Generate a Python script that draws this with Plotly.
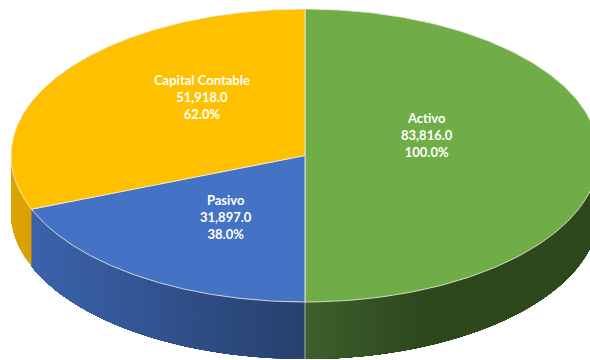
import numpy as np
import plotly.graph_objects as go

# Balance sheet split
categories = ["Activo", "Pasivo", "Capital Contable"]
values = [83816.0, 31897.0, 51918.0]
percent_labels = ["100.0%", "38.0%", "62.0%"]

# Slice styling
top_colors = ["#70AD47", "#4472C4", "#FFC000"]
side_colors = [("#3E602D", "#2D481D"), ("#3B63AC", "#27406D"), ("#DCA400", "#D8A000")]
label_pos = [(427, 135), (226, 217), (202, 97)]

# Projected pie geometry (pixels)
W, H = 590, 360
CX, CY, RX, RY, DEPTH = 305.0, 155.5, 294.0, 146.5, 57.0


def ellipse(theta_deg, dy=0.0):
    t = np.radians(theta_deg)
    return CX + RX * np.sin(t), CY - RY * np.cos(t) + dy


def blend(c1, c2, f):
    a = [int(c1[i:i + 2], 16) for i in (1, 3, 5)]
    b = [int(c2[i:i + 2], 16) for i in (1, 3, 5)]
    c = [round(a[k] + (b[k] - a[k]) * f) for k in range(3)]
    return "rgb({},{},{})".format(*c)


total = sum(values)
bounds = np.concatenate([[0.0], np.cumsum(values) / total * 360.0])

fig = go.Figure()

# Side walls: only the front half (90..270 deg) is visible.
# Each shading band runs to the end of the wall, so later bands cover
# the previous band's edge and no seams show.
for i, cat in enumerate(categories):
    t0, t1 = max(bounds[i], 90.0), min(bounds[i + 1], 270.0)
    if t1 <= t0:
        continue
    n = max(1, int((t1 - t0) / 1.0))
    edges = np.linspace(t0, t1, n + 1)
    xa, _ = ellipse(t0)
    xb, _ = ellipse(t1)
    lo, hi = min(xa, xb), max(xa, xb)
    for k in range(n):
        ang = np.linspace(edges[k], t1, 40)
        xt, yt = ellipse(ang)
        xbtm, ybtm = ellipse(ang[::-1], DEPTH)
        xm, _ = ellipse((edges[k] + edges[k + 1]) / 2)
        if cat == "Activo":
            f = min(1.0, max(0.0, (xm - lo) / 115.0))
        else:
            f = (xm - lo) / (hi - lo) if hi > lo else 0.0
        col = blend(side_colors[i][0], side_colors[i][1], f)
        fig.add_trace(go.Scatter(
            x=np.concatenate([xt, xbtm, xt[:1]]),
            y=np.concatenate([yt, ybtm, yt[:1]]),
            mode="lines", fill="toself", fillcolor=col,
            line=dict(width=0),
            hoverinfo="skip", showlegend=False))

# Seam on the front wall at the Activo / Pasivo boundary
xs, ys = ellipse(bounds[1])
fig.add_trace(go.Scatter(x=[xs, xs], y=[ys, ys + DEPTH], mode="lines",
                         line=dict(color="rgba(200,200,200,0.8)", width=1),
                         hoverinfo="skip", showlegend=False))

# Top faces
for i, cat in enumerate(categories):
    ang = np.linspace(bounds[i], bounds[i + 1], 200)
    xt, yt = ellipse(ang)
    fig.add_trace(go.Scatter(
        x=np.concatenate([[CX], xt, [CX]]),
        y=np.concatenate([[CY], yt, [CY]]),
        mode="lines", fill="toself", fillcolor=top_colors[i],
        line=dict(color="rgba(235,235,225,0.85)", width=1),
        hoverinfo="skip", showlegend=False, name=cat))

# Data labels
for i, cat in enumerate(categories):
    txt = "<b>{}</b><br><b>{:,.1f}</b><br><b>{}</b>".format(cat, values[i], percent_labels[i])
    fig.add_annotation(x=label_pos[i][0], y=label_pos[i][1], text=txt,
                       showarrow=False, align="center",
                       xanchor="center", yanchor="middle",
                       font=dict(family="Lato, Carlito, Arial", size=13, color="white"))

fig.update_layout(
    width=W, height=H, autosize=False,
    margin=dict(l=0, r=0, t=0, b=0),
    paper_bgcolor="white", plot_bgcolor="white",
    xaxis=dict(range=[0, W], visible=False, fixedrange=True),
    yaxis=dict(range=[H, 0], visible=False, fixedrange=True),
    showlegend=False,
)

fig.write_html("out.html", config={"displayModeBar": False})
